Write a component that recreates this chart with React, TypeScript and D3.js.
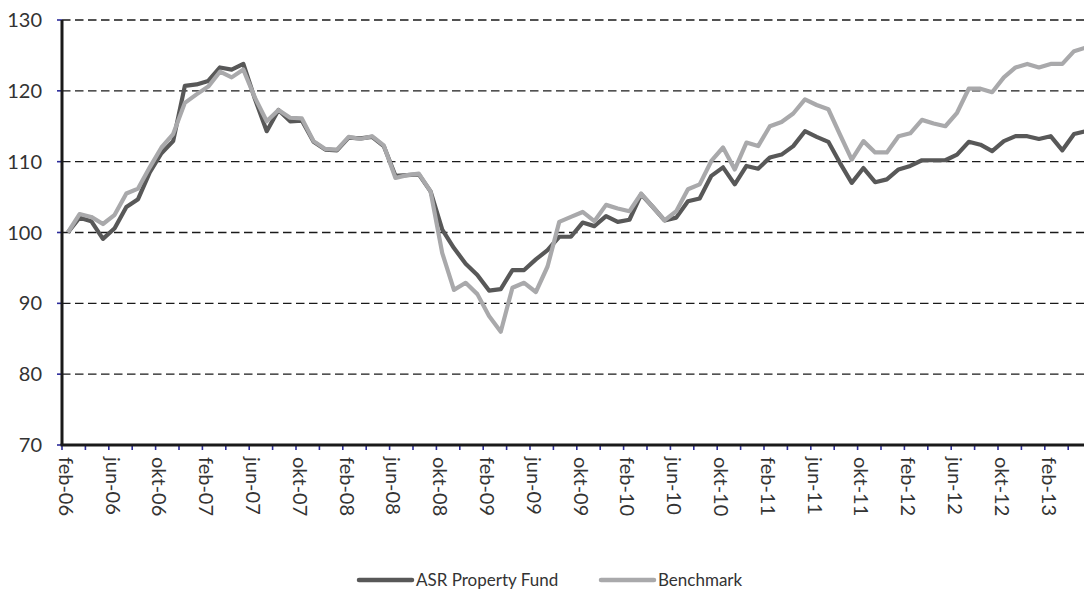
import React from 'react';
import * as d3 from 'd3';

const monthNames = ['jan', 'feb', 'mrt', 'apr', 'mei', 'jun', 'jul', 'aug', 'sep', 'okt', 'nov', 'dec'];

// monthly index values, feb-06 .. mei-13
const asrFund = [
  100, 102.1, 101.6, 99.1, 100.6, 103.6, 104.7, 108.5, 111.2, 112.9,
  120.7, 120.9, 121.4, 123.3, 123.0, 123.8, 118.8, 114.3, 117.3, 115.7,
  115.8, 112.8, 111.7, 111.6, 113.4, 113.3, 113.5, 112.2, 108.0, 108.1,
  108.2, 105.8, 100.4, 97.8, 95.6, 94.0, 91.8, 92.0, 94.7, 94.7,
  96.2, 97.5, 99.4, 99.4, 101.4, 100.9, 102.3, 101.5, 101.8, 105.4,
  103.6, 101.7, 102.1, 104.4, 104.8, 108.0, 109.2, 106.8, 109.4, 109.0,
  110.6, 111.0, 112.2, 114.3, 113.5, 112.8, 109.8, 107.0, 109.1, 107.1,
  107.5, 108.9, 109.4, 110.2, 110.2, 110.2, 111.0, 112.8, 112.4, 111.5,
  112.9, 113.6, 113.6, 113.2, 113.6, 111.6, 113.9, 114.3
];

const benchmark = [
  100, 102.6, 102.2, 101.2, 102.5, 105.5, 106.2, 109.2, 112.0, 113.9,
  118.3, 119.5, 120.6, 122.7, 121.9, 123.0, 119.0, 115.7, 117.3, 116.2,
  116.1, 112.9, 111.8, 111.7, 113.5, 113.2, 113.6, 112.3, 107.7, 108.1,
  108.3, 105.8, 97.1, 91.9, 92.9, 91.3, 88.2, 86.0, 92.2, 92.9,
  91.6, 95.2, 101.5, 102.2, 102.9, 101.6, 103.9, 103.4, 103.0, 105.5,
  103.6, 101.7, 103.0, 106.1, 106.8, 110.1, 112.0, 108.9, 112.7, 112.2,
  115.0, 115.6, 116.8, 118.8, 118.0, 117.4, 113.8, 110.3, 112.9, 111.3,
  111.3, 113.6, 114.0, 115.9, 115.4, 115.0, 116.9, 120.3, 120.3, 119.8,
  121.9, 123.3, 123.8, 123.3, 123.8, 123.8, 125.6, 126.1
];

const yTicks = [70, 80, 90, 100, 110, 120, 130];

// category labels, starting feb 2006
const categories = asrFund.map((_, i) => {
  const m = (1 + i) % 12;
  const y = 6 + Math.floor((1 + i) / 12);
  return `${monthNames[m]}-${String(y).padStart(2, '0')}`;
});

const seriesList = [
  { name: 'ASR Property Fund', values: asrFund, color: '#585858' },
  { name: 'Benchmark', values: benchmark, color: '#a9a9ab' }
];

const W = 1084;
const H = 591;
const left = 62;
const top = 20;
const bottom = 445;
const step = 11.7;

const App = () => {
  const x = d3.scaleBand<string>()
    .domain(categories)
    .range([left, left + categories.length * step])
    .padding(0);
  const y = d3.scaleLinear().domain([70, 130]).range([bottom, top]);
  const cx = (c: string) => (x(c) as number) + x.bandwidth() / 2;

  const line = d3.line<number>()
    .x((_, i) => cx(categories[i]))
    .y(d => y(d));

  const font = 'Lato, "Open Sans", sans-serif';

  return (
    <svg width={W} height={H} style={{ position: 'absolute', left: 0, top: 0, background: '#fff' }}>
      {/* gridlines */}
      {yTicks.filter(t => t > 70).map(t => (
        <line key={t} x1={left} x2={W} y1={y(t)} y2={y(t)}
          stroke="#1a1a1a" strokeWidth={1.3} strokeDasharray="8.5,4.5" />
      ))}
      {/* y ticks + labels */}
      {yTicks.map(t => (
        <g key={'y' + t}>
          <line x1={left - 5} x2={left} y1={y(t)} y2={y(t)} stroke="#2b2b9a" strokeWidth={1.6} />
          <text x={42} y={y(t) + 2} textAnchor="end" dominantBaseline="middle"
            fontFamily={font} fontSize={20} fill="#333">{t}</text>
        </g>
      ))}
      {/* x ticks every 2 months */}
      {categories.filter((_, i) => i % 2 === 0).map(c => (
        <line key={'xt' + c} x1={x(c)} x2={x(c)} y1={bottom} y2={bottom + 5}
          stroke="#2b2b9a" strokeWidth={1.6} />
      ))}
      {/* x labels every 4 months */}
      {categories.filter((_, i) => i % 4 === 0).map(c => (
        <text key={'xl' + c} transform={`translate(${cx(c) - 1},457) rotate(90)`}
          dominantBaseline="central" fontFamily={font} fontSize={20} fill="#333">{c}</text>
      ))}
      {/* series: benchmark drawn on top */}
      {seriesList.map(s => (
        <path key={s.name} d={line(s.values) as string} fill="none" stroke={s.color}
          strokeWidth={4.2} strokeLinejoin="round" />
      ))}
      {/* axes */}
      <line x1={left} x2={left} y1={top} y2={bottom} stroke="#1a1a1a" strokeWidth={3} />
      <line x1={left - 1.5} x2={W} y1={bottom} y2={bottom} stroke="#1a1a1a" strokeWidth={3} />
      {/* legend */}
      {seriesList.map((s, i) => {
        const lx = i === 0 ? 359 : 601;
        return (
          <g key={'lg' + s.name}>
            <line x1={lx} x2={lx + 53} y1={580} y2={580} stroke={s.color} strokeWidth={4.5} strokeLinecap="round" />
            <text x={lx + 57} y={586} fontFamily={font} fontSize={17} fill="#333">{s.name}</text>
          </g>
        );
      })}
    </svg>
  );
};

export default App;
